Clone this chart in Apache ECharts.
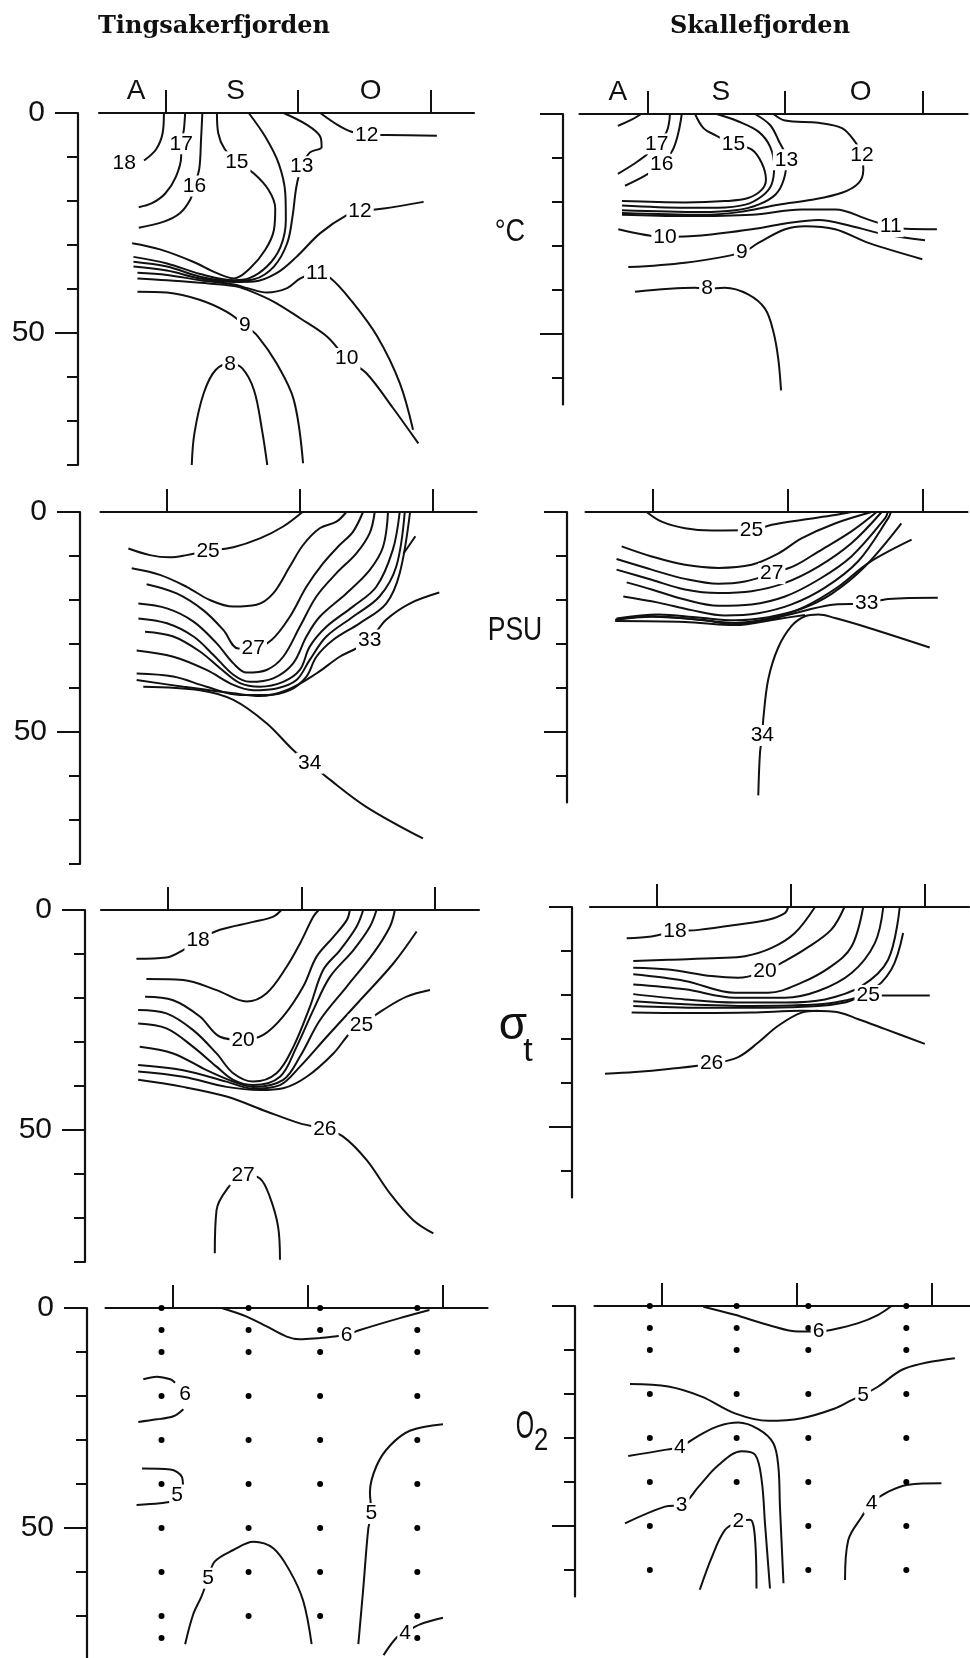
<!DOCTYPE html>
<html><head><meta charset="utf-8">
<script src="https://cdn.jsdelivr.net/npm/echarts@6/dist/echarts.min.js"></script>
<style>html,body{margin:0;padding:0;background:#fff}#c{width:970px;height:1658px}</style>
</head><body><div id="c"></div>
<script>
// ===================== DATA (x: months from 1 Aug, 1 = 1 Sep, 2 = 1 Oct, 3 = 1 Nov; y: depth m) =====================
const MONTH_LABELS = ['A', 'S', 'O'];
const MONTH_POS = [0.78, 1.53, 2.55];
const MONTH_TICKS = [1, 2, 3];
const DEPTH_LABELS = [0, 50];

// Tingsakerfjorden, temperature (°C)
const TING_TEMP = [
  [18, [[0.99,0],[0.98,4.6],[0.93,8.3],[0.84,10.8]]],
  [17, [[1.15,0],[1.14,3.9],[1.12,7.0],[1.12,9.9],[1.08,14.5],[1.0,18.3],[0.9,20.5],[0.8,21.4]]],
  [16, [[1.28,0],[1.27,6.1],[1.257,12.6],[1.22,16.6],[1.19,19.6],[1.11,22.8],[0.99,24.7],[0.8,26.1]]],
  [15, [[1.39,0],[1.40,4.6],[1.445,8.0],[1.54,11.1],[1.667,13.7],[1.78,17.5],[1.83,21.7],[1.82,26.6],[1.755,31.1],[1.64,35.3],[1.52,37.6],[1.39,36.4],[1.21,33.8],[0.96,31.0],[0.75,29.6]]],
  [14, [[1.63,0],[1.755,5.4],[1.855,11.4],[1.906,18.3],[1.91,24.3],[1.87,30.4],[1.767,34.9],[1.63,37.6],[1.52,38.0],[1.264,36.6],[1.013,34.2],[0.76,32.7]]],
  [13, [[1.893,0],[2.07,2.7],[2.17,5.4],[2.18,7.7],[2.09,9.0],[2.03,12.2],[1.99,16.7],[1.96,23.6],[1.92,29.6],[1.82,34.9],[1.67,37.8],[1.52,38.2],[1.264,37.2],[1.013,34.9],[0.76,33.8]]],
  [12, [[2.17,0],[2.3,2.7],[2.4,4.2],[2.52,5.0],[2.67,5.0],[3.05,5.15]]],
  [12, [[2.95,20.2],[2.65,21.7],[2.47,22.4],[2.37,23.2],[2.17,27.3],[1.99,32.7],[1.84,36.4],[1.67,38.3],[1.52,38.4],[1.264,37.6],[1.013,35.8],[0.76,34.9]]],
  [11, [[2.87,72.0],[2.77,61.4],[2.6,50.8],[2.4,42.5],[2.25,37.6],[2.145,36.3],[2.02,37.6],[1.92,39.8],[1.767,40.8],[1.62,39.8],[1.52,39.0],[1.264,38.0],[1.013,36.8],[0.79,36.3]]],
  [10, [[2.91,75.1],[2.72,67.1],[2.52,59.2],[2.37,55.8],[2.22,50.8],[2.02,46.7],[1.82,42.9],[1.62,40.2],[1.52,39.3],[1.264,38.6],[1.013,38.0],[0.79,37.6]]],
  [9,  [[0.79,40.6],[1.013,40.8],[1.264,42.5],[1.465,45.2],[1.6,48.2],[1.7,50.8],[1.84,56.9],[1.97,65.2],[2.04,79.6]]],
  [8,  [[1.2,80],[1.22,72.8],[1.29,63.7],[1.38,58.4],[1.49,57.0],[1.58,58.0],[1.67,63.0],[1.73,72.0],[1.77,80]]]
];
const TING_TEMP_LABELS = [[0.69,11.4,'18'],[1.12,7.0,'17'],[1.22,16.6,'16'],[1.54,11.1,'15'],[2.03,12.2,'13'],[2.52,5.0,'12'],[2.47,22.4,'12'],[2.145,36.3,'11'],[2.37,55.8,'10'],[1.6,48.2,'9'],[1.49,57.0,'8']];

// Skallefjorden, temperature (°C)
const SKAL_TEMP = [
  [18, [[0.78,2.7],[0.88,1.3],[0.95,0]]],
  [17, [[1.16,0],[1.136,4.0],[1.063,6.8],[1.0,9.0],[0.905,11.2],[0.78,13.6]]],
  [16, [[1.246,0],[1.22,4.4],[1.178,8.3],[1.1,11.5],[0.978,14.0],[0.832,16.3]]],
  [15, [[1.343,0],[1.404,3.2],[1.49,4.8],[1.623,6.8],[1.757,8.1],[1.83,11.2],[1.86,14.9],[1.83,17.2],[1.73,19.1],[1.56,19.8],[1.27,20.1],[0.81,19.8]]],
  [14, [[1.5,0],[1.66,1.7],[1.805,4.0],[1.89,7.4],[1.92,11.9],[1.9,16.1],[1.83,18.7],[1.71,20.6],[1.51,21.3],[1.27,21.3],[0.81,20.8]]],
  [13, [[1.78,0],[1.89,2.5],[1.95,5.9],[2.01,10.4],[1.99,14.9],[1.93,18.3],[1.805,20.6],[1.635,21.9],[1.39,22.3],[0.81,21.9]]],
  [12, [[1.915,0],[2.0,1.5],[2.243,2.0],[2.414,3.2],[2.5,5.9],[2.56,9.3],[2.57,12.7],[2.535,15.7],[2.414,17.9],[2.195,19.5],[1.95,20.6],[1.66,22.3],[1.39,22.9],[0.81,22.5]]],
  [11, [[0.81,22.9],[1.27,23.2],[1.757,22.9],[2.12,21.7],[2.365,21.7],[2.608,24.0],[2.77,25.6],[2.876,26.1],[3.107,26.2]]],
  [10, [[0.783,26.2],[1.124,27.9],[1.39,27.6],[1.757,26.2],[2.0,24.9],[2.243,24.1],[2.487,25.5],[2.73,27.4],[3.02,28.7]]],
  [9,  [[0.856,34.8],[1.27,33.8],[1.684,31.5],[1.805,29.3],[2.0,26.2],[2.146,25.5],[2.365,26.2],[2.608,29.3],[3.0,33.0]]],
  [8,  [[0.905,40.4],[1.343,39.5],[1.43,39.7],[1.56,39.5],[1.73,41.0],[1.854,44.3],[1.915,49.6],[1.95,55.7],[1.97,62.8]]]
];
const SKAL_TEMP_LABELS = [[1.063,6.8,'17'],[1.1,11.5,'16'],[1.623,6.8,'15'],[2.01,10.4,'13'],[2.56,9.3,'12'],[2.77,25.6,'11'],[1.124,27.9,'10'],[1.684,31.5,'9'],[1.43,39.7,'8']];

// Tingsakerfjorden, salinity (PSU)
const TING_SAL = [
  [25, [[0.71,8.3],[0.872,9.8],[1.02,10.3],[1.148,9.8],[1.31,8.8],[1.5,8.0],[1.7,6.0],[1.875,3.3],[2.02,0]]],
  [26, [[0.735,12.8],[0.947,14.3],[1.148,17.0],[1.323,20.0],[1.5,21.5],[1.674,21.1],[1.8,18.5],[1.925,12.4],[2.025,7.5],[2.15,3.7],[2.276,2.2],[2.35,0]]],
  [27, [[0.847,16.4],[1.073,18.5],[1.273,22.3],[1.424,26.8],[1.536,31.0],[1.65,31.0],[1.787,29.1],[1.925,23.8],[2.05,17.0],[2.175,11.7],[2.3,7.5],[2.4,4.5],[2.476,0]]],
  [28, [[0.785,20.8],[1.0,21.9],[1.2,24.9],[1.373,29.8],[1.5,34.4],[1.6,36.5],[1.75,35.9],[1.875,32.9],[2.0,26.1],[2.125,19.2],[2.276,13.9],[2.426,9.4],[2.526,4.8],[2.564,0]]],
  [29, [[0.785,24.2],[1.0,25.3],[1.2,28.3],[1.35,32.5],[1.5,37.0],[1.624,38.6],[1.8,37.8],[1.95,34.4],[2.05,28.3],[2.15,23.8],[2.35,18.5],[2.526,13.2],[2.627,7.9],[2.664,0]]],
  [30, [[0.835,27.2],[1.048,28.3],[1.248,31.7],[1.4,35.5],[1.55,38.9],[1.7,39.7],[1.875,38.6],[2.0,35.9],[2.075,30.6],[2.2,26.1],[2.4,21.5],[2.576,17.0],[2.7,8.6],[2.752,0]]],
  [31, [[0.772,31.5],[1.048,32.9],[1.298,35.9],[1.5,39.3],[1.65,40.5],[1.825,40.1],[1.975,38.2],[2.075,33.6],[2.2,28.3],[2.4,23.8],[2.6,19.2],[2.726,12.4],[2.79,0]]],
  [32, [[0.772,36.7],[1.048,37.4],[1.298,39.7],[1.55,41.6],[1.75,41.6],[1.925,40.5],[2.05,37.4],[2.125,32.9],[2.25,29.1],[2.45,25.3],[2.65,20.8],[2.752,13.9],[2.83,0]]],
  [32, [[2.87,5.5],[2.78,9.5]]],
  [33, [[0.772,38.2],[1.123,39.7],[1.5,41.2],[1.7,41.8],[1.9,40.5],[2.125,36.7],[2.3,32.9],[2.426,31.0],[2.526,29.1],[2.65,24.5],[2.827,20.8],[3.05,18.3]]],
  [34, [[0.822,39.7],[1.248,40.5],[1.5,42.7],[1.75,48.0],[1.95,54.1],[2.075,57.1],[2.2,60.2],[2.5,67.0],[2.927,74.2]]]
];
const TING_SAL_LABELS = [[1.31,8.8,'25'],[1.65,31.0,'27'],[2.526,29.1,'33'],[2.075,57.1,'34']];

// Skallefjorden, salinity (PSU)
const SKAL_SAL = [
  [25, [[0.953,0],[1.064,2.2],[1.237,3.7],[1.435,4.2],[1.73,4.1],[1.88,2.9],[2.1,1.8],[2.348,0.7],[2.47,0]]],
  [26, [[0.768,7.8],[0.99,10.1],[1.237,12.0],[1.484,12.7],[1.73,12.0],[1.93,9.4],[2.1,6.0],[2.348,2.6],[2.62,0]]],
  [27, [[0.73,10.7],[0.99,13.1],[1.237,15.2],[1.484,16.3],[1.68,15.8],[1.88,14.0],[2.05,12.2],[2.225,9.0],[2.47,4.4],[2.657,0]]],
  [28, [[0.73,13.1],[0.99,15.4],[1.237,17.6],[1.484,18.4],[1.73,18.0],[1.978,16.1],[2.225,12.4],[2.47,7.1],[2.694,0]]],
  [29, [[0.805,16.0],[0.99,17.6],[1.237,19.9],[1.484,21.3],[1.73,21.0],[1.978,19.2],[2.225,15.4],[2.47,10.1],[2.72,1.4],[2.74,0]]],
  [30, [[0.78,19.2],[1.04,20.6],[1.286,22.3],[1.533,23.5],[1.78,23.0],[2.027,21.0],[2.274,17.2],[2.52,11.2],[2.743,1.4],[2.763,0]]],
  [31, [[0.73,24.2],[1.04,23.3],[1.336,24.0],[1.607,24.6],[1.854,23.9],[2.1,22.0],[2.323,18.6],[2.57,12.4],[2.84,2.6]]],
  [32, [[0.73,24.4],[0.99,23.7],[1.286,24.3],[1.607,25.2],[1.9,23.9],[2.126,21.5],[2.373,17.0],[2.595,11.6],[2.916,6.3]]],
  [33, [[0.72,24.5],[0.99,23.8],[1.36,24.5],[1.607,25.5],[1.854,24.5],[2.1,22.6],[2.348,21.0],[2.583,20.8],[2.743,19.8],[3.11,19.5]]],
  [34, [[1.78,64.4],[1.793,54.6],[1.81,50.8],[1.817,47.1],[1.854,38.0],[1.928,30.8],[2.027,25.9],[2.126,23.7],[2.225,23.3],[2.348,24.1],[2.595,26.3],[3.05,30.8]]],
  [34, [[0.72,24.8],[1.237,25.0],[1.607,25.7],[1.928,24.3],[2.126,23.4]]]
];
const SKAL_SAL_LABELS = [[1.73,4.1,'25'],[1.88,14.0,'27'],[2.583,20.8,'33'],[1.81,50.8,'34']];

// Tingsakerfjorden, sigma-t
const TING_SIG = [
  [18, [[0.765,11.1],[0.99,10.8],[1.115,9.1],[1.227,6.8],[1.39,4.5],[1.64,2.7],[1.79,1.5],[1.85,0]]],
  [19, [[0.84,15.7],[1.115,15.9],[1.365,18.2],[1.59,20.8],[1.74,18.9],[1.89,12.9],[1.99,7.6],[2.09,1.5],[2.13,0]]],
  [20, [[0.83,19.7],[1.04,20.5],[1.24,24.2],[1.39,28.8],[1.564,29.5],[1.715,28.4],[1.864,24.2],[2.014,17.4],[2.114,10.6],[2.24,6.1],[2.34,2.3],[2.363,0]]],
  [21, [[0.778,22.7],[0.99,23.5],[1.19,27.3],[1.365,32.6],[1.49,37.1],[1.64,39.0],[1.814,37.1],[1.94,31.1],[2.064,22.0],[2.164,13.6],[2.29,9.1],[2.413,3.8],[2.463,0]]],
  [22, [[0.778,25.8],[0.99,26.9],[1.19,31.1],[1.365,35.6],[1.49,38.6],[1.64,39.8],[1.84,37.9],[1.964,31.1],[2.09,22.7],[2.214,15.2],[2.39,9.1],[2.513,3.8],[2.563,0]]],
  [23, [[0.79,31.1],[1.04,32.6],[1.29,36.4],[1.49,39.0],[1.64,40.2],[1.864,38.6],[1.99,33.3],[2.14,25.0],[2.34,17.4],[2.54,9.8],[2.663,3.8],[2.7,0]]],
  [24, [[0.778,35.2],[1.115,36.4],[1.44,39.0],[1.64,40.6],[1.84,39.8],[1.99,35.6],[2.19,28.8],[2.44,20.5],[2.69,12.1],[2.863,4.9]]],
  [25, [[0.778,36.7],[1.115,37.9],[1.44,40.2],[1.69,40.9],[1.864,40.5],[2.04,37.9],[2.24,32.6],[2.363,28.0],[2.45,26.1],[2.613,22.7],[2.788,19.7],[2.963,18.2]]],
  [26, [[0.778,38.6],[1.115,40.2],[1.44,42.4],[1.74,45.8],[1.99,48.5],[2.176,49.8],[2.313,51.5],[2.488,56.8],[2.663,64.4],[2.838,70.5],[2.988,73.5]]],
  [27, [[1.352,78.0],[1.365,68.2],[1.44,63.6],[1.564,60.2],[1.69,61.0],[1.764,65.2],[1.826,72.0],[1.84,79.5]]]
];
const TING_SIG_LABELS = [[1.227,6.8,'18'],[1.564,29.5,'20'],[2.45,26.1,'25'],[2.176,49.8,'26'],[1.564,60.2,'27']];

// Skallefjorden, sigma-t
const SKAL_SIG = [
  [18, [[0.774,7.1],[0.96,6.7],[1.134,5.6],[1.31,5.2],[1.582,4.1],[1.83,2.9],[1.955,1.4],[1.98,0]]],
  [19, [[0.823,12.3],[1.085,12.0],[1.458,11.6],[1.657,11.2],[1.856,9.3],[2.03,5.9],[2.18,0]]],
  [20, [[0.823,13.8],[1.085,14.2],[1.408,15.7],[1.607,16.1],[1.806,14.6],[1.93,12.7],[2.1,9.7],[2.3,5.2],[2.4,0]]],
  [21, [[0.823,15.3],[1.21,16.8],[1.582,19.5],[1.83,19.5],[2.08,17.2],[2.3,13.5],[2.453,9.0],[2.54,0]]],
  [22, [[0.823,17.6],[1.21,18.7],[1.582,20.6],[1.955,20.6],[2.204,19.1],[2.453,15.0],[2.627,8.2],[2.69,0]]],
  [23, [[0.823,19.8],[1.21,21.0],[1.582,21.7],[1.955,21.7],[2.254,21.0],[2.527,18.0],[2.726,12.0],[2.813,0]]],
  [24, [[0.823,21.4],[1.21,22.1],[1.706,22.5],[2.08,22.3],[2.328,21.7],[2.577,19.5],[2.75,14.2],[2.838,5.9]]],
  [25, [[0.823,22.5],[1.333,22.9],[1.83,22.9],[2.204,22.5],[2.403,21.7],[2.577,20.1],[2.726,20.1],[3.037,20.1]]],
  [25.5, [[0.811,24.0],[1.21,24.1],[1.706,24.0],[2.08,23.6],[2.328,23.8],[2.503,25.5],[2.7,27.7],[3.0,31.1]]],
  [26, [[0.612,37.9],[0.836,37.5],[1.085,36.8],[1.408,35.6],[1.607,34.1],[1.756,30.8],[1.905,27.0],[2.08,24.0],[2.204,23.6]]]
];
const SKAL_SIG_LABELS = [[1.134,5.6,'18'],[1.806,14.6,'20'],[2.577,20.1,'25'],[1.408,35.6,'26']];

// Tingsakerfjorden, oxygen
const TING_O2 = [
  [6, [[1.36,0],[1.546,1.95],[1.694,4.2],[1.842,6.5],[1.94,7.1],[2.089,6.8],[2.163,6.6],[2.286,6.1],[2.385,5.0],[2.68,2.3],[2.9,0.45]]],
  [6, [[0.78,16.2],[0.88,15.6],[0.98,16.2],[1.015,17.0]]],
  [6, [[0.743,25.9],[0.88,25.3],[1.003,24.6],[1.077,23.0]]],
  [5, [[0.77,36.5],[0.98,36.7],[1.066,38.4],[1.074,40.6],[1.042,41.8]]],
  [5, [[0.73,44.8],[0.904,44.4],[1.003,44.0]]],
  [5, [[1.09,76.4],[1.15,69.6],[1.212,65.5],[1.26,61.4],[1.31,57.6],[1.447,55.0],[1.595,53.1],[1.743,54.6],[1.866,59.8],[1.965,66.6],[2.027,76.4]]],
  [5, [[2.373,76.4],[2.41,63.6],[2.447,50.1],[2.47,46.7],[2.459,41.8],[2.509,35.8],[2.607,31.3],[2.755,27.9],[3.0,26.4]]],
  [4, [[2.56,78.9],[2.657,74.9],[2.72,73.8],[2.83,71.9],[3.0,70.4]]]
];
const TING_O2_LABELS = [[2.286,6.1,'6'],[1.09,19.6,'6'],[1.03,42.5,'5'],[1.26,61.4,'5'],[2.47,46.7,'5'],[2.72,73.8,'4']];
const TING_STATION_X = [0.915, 1.56, 2.09, 2.81];
const TING_STATION_DEPTHS = [[0,5,10,20,30,40,50,60,70,75],[0,5,10,20,30,40,50,60,70],[0,5,10,20,30,40,50,60,70],[0,5,10,20,30,40,50,60,70,75]];

// Skallefjorden, oxygen
const SKAL_O2 = [
  [6, [[1.306,0.15],[1.54,2.0],[1.788,4.3],[2.01,5.8],[2.16,5.8],[2.26,5.4],[2.454,3.9],[2.602,2.0],[2.7,0]]],
  [5, [[0.763,17.7],[1.047,18.3],[1.294,20.6],[1.54,24.4],[1.788,26.1],[2.035,25.5],[2.28,23.3],[2.405,21.4],[2.49,20.2],[2.602,18.3],[2.8,14.2],[3.17,11.9]]],
  [4, [[0.75,34.1],[1.02,32.7],[1.133,32.0],[1.27,29.5],[1.417,27.3],[1.565,26.5],[1.714,28.0],[1.825,31.2],[1.862,36.5],[1.874,45.6],[1.9,63.0]]],
  [3, [[0.726,49.4],[1.022,45.6],[1.146,45.2],[1.27,41.1],[1.417,36.2],[1.59,33.0],[1.69,33.8],[1.738,39.5],[1.763,49.4],[1.8,64.2]]],
  [2, [[1.28,64.5],[1.37,57.0],[1.467,50.9],[1.565,49.0],[1.652,48.6],[1.69,53.2],[1.7,64.2]]],
  [4, [[2.356,62.3],[2.38,53.2],[2.48,47.9],[2.553,44.8],[2.677,42.2],[2.825,40.6],[3.07,40.3]]]
];
const SKAL_O2_LABELS = [[2.16,5.8,'6'],[2.49,20.2,'5'],[1.133,32.0,'4'],[1.146,45.2,'3'],[1.565,49.0,'2'],[2.553,44.8,'4']];
const SKAL_STATION_X = [0.91, 1.553, 2.084, 2.81];
const SKAL_STATION_DEPTHS = [[0,5,10,20,30,40,50,60],[0,5,10,20,30,40,50],[0,5,10,20,30,40,50,60],[0,5,10,20,30,40,50,60]];

const TITLES = ['Tingsakerfjorden', 'Skallefjorden'];

// ===================== LAYOUT =====================
const INK = '#111';
const FONT = "'Liberation Sans', Arial, sans-serif";
const PX_PER_M = 4.4;
const X_MIN = 0.5, X_MAX = 3.33;
const PANELS = [
  {left:99,    top:113,  width:375, axisX:78,  max:80, labels:true,  months:true,  lines:TING_TEMP, lab:TING_TEMP_LABELS},
  {left:579.5, top:114,  width:388, axisX:563, max:66, labels:false, months:true,  lines:SKAL_TEMP, lab:SKAL_TEMP_LABELS},
  {left:100.5, top:512,  width:376, axisX:80,  max:80, labels:true,  months:false, lines:TING_SAL,  lab:TING_SAL_LABELS},
  {left:585.5, top:512,  width:382, axisX:567, max:66, labels:false, months:false, lines:SKAL_SAL,  lab:SKAL_SAL_LABELS},
  {left:101,   top:910,  width:378, axisX:85,  max:80, labels:true,  months:false, lines:TING_SIG,  lab:TING_SIG_LABELS},
  {left:590,   top:907,  width:379, axisX:572, max:66, labels:false, months:false, lines:SKAL_SIG,  lab:SKAL_SIG_LABELS},
  {left:105.5, top:1308, width:382, axisX:87,  max:80, labels:true,  months:false, lines:TING_O2,   lab:TING_O2_LABELS, sx:TING_STATION_X, sd:TING_STATION_DEPTHS},
  {left:594.5, top:1306, width:382, axisX:575, max:66, labels:false, months:false, lines:SKAL_O2,   lab:SKAL_O2_LABELS, sx:SKAL_STATION_X, sd:SKAL_STATION_DEPTHS}
];

const grid = [], xAxis = [], yAxis = [], series = [];
PANELS.forEach((p, i) => {
  grid.push({left:p.left, top:p.top, width:p.width, height:p.max*PX_PER_M, containLabel:false, outerBoundsMode:'none'});
  xAxis.push({
    gridIndex:i, type:'value', position:'top', min:X_MIN, max:X_MAX,
    axisLine:{show:true, onZero:false, lineStyle:{color:INK, width:2.2}},
    axisTick:{show:true, customValues:MONTH_TICKS, length:23, lineStyle:{color:INK, width:2}},
    axisLabel: p.months ? {show:true, customValues:MONTH_POS, margin:8, fontSize:28, fontFamily:FONT, color:INK,
      formatter:(v)=>{ let k=0; MONTH_POS.forEach((m,j)=>{ if (Math.abs(m-v)<Math.abs(MONTH_POS[k]-v)) k=j; }); return MONTH_LABELS[k]; }} : {show:false},
    splitLine:{show:false}
  });
  const depthTicks = []; for (let d = 0; d <= p.max; d += 10) depthTicks.push(d);
  const offset = p.left - p.axisX;
  yAxis.push({
    gridIndex:i, type:'value', position:'left', inverse:true, min:0, max:p.max, offset:offset,
    axisLine:{show:true, onZero:false, lineStyle:{color:INK, width:2.2}},
    axisTick:{show:true, customValues:depthTicks, length:11, lineStyle:{color:INK, width:2}},
    axisLabel:{show:false}, splitLine:{show:false}
  });
  yAxis.push({
    gridIndex:i, type:'value', position:'left', inverse:true, min:0, max:p.max, offset:offset,
    axisLine:{show:false},
    axisTick:{show:true, customValues:DEPTH_LABELS, length:23, lineStyle:{color:INK, width:2}},
    axisLabel: p.labels ? {show:true, customValues:DEPTH_LABELS, margin:33, fontSize:30, fontFamily:FONT, color:INK} : {show:false},
    splitLine:{show:false}
  });
  p.lines.forEach(([v, pts]) => {
    series.push({type:'line', name:String(v), xAxisIndex:i, yAxisIndex:2*i, data:pts, smooth:0.35,
      symbol:'none', showSymbol:false, silent:true, z:2,
      lineStyle:{color:INK, width:2}});
  });
  if (p.sx) {
    const dots = [];
    p.sx.forEach((x, k) => p.sd[k].forEach(d => dots.push([x, d])));
    series.push({type:'scatter', xAxisIndex:i, yAxisIndex:2*i, data:dots, symbol:'circle', symbolSize:6,
      silent:true, z:3, itemStyle:{color:'#000', opacity:1}});
  }
  series.push({type:'scatter', xAxisIndex:i, yAxisIndex:2*i, symbolSize:0, silent:true, z:5,
    itemStyle:{color:'#000', opacity:1},
    data:p.lab.map(l => ({value:[l[0], l[1]], name:l[2]})),
    label:{show:true, position:'inside', formatter:'{b}', fontSize:21, fontFamily:FONT, color:'#000', opacity:1,
      textBorderWidth:0, textBorderColor:'transparent', backgroundColor:'#fff', padding:[0,2]}});
});

function txt(x, y, text, font, extra) {
  return Object.assign({type:'text', x:x, y:y, silent:true, z:10,
    style:{text:text, font:font, fill:INK, textAlign:'center', textVerticalAlign:'middle', align:'center', verticalAlign:'middle'}}, extra || {});
}
const graphic = [
  txt(214, 27, TITLES[0], "bold 24px 'DejaVu Serif', serif"),
  txt(760, 27, TITLES[1], "bold 24px 'DejaVu Serif', serif"),
  txt(510, 232, '°C', "32px 'Liberation Sans', sans-serif", {scaleX:0.85}),
  txt(515, 631, 'PSU', "34px 'Liberation Sans', sans-serif", {scaleX:0.78}),
  txt(513, 1026, 'σ', "46px 'Liberation Sans', sans-serif"),
  txt(528, 1052, 't', "34px 'Liberation Sans', sans-serif"),
  txt(525, 1428, 'O', "38px 'Liberation Sans', sans-serif", {scaleX:0.62}),
  txt(541, 1441, '2', "32px 'Liberation Sans', sans-serif", {scaleX:0.8})
];

const chart = echarts.init(document.getElementById('c'), null, {renderer:'canvas'});
chart.setOption({backgroundColor:'#fff', animation:false, grid, xAxis, yAxis, series, graphic});
</script></body></html>
